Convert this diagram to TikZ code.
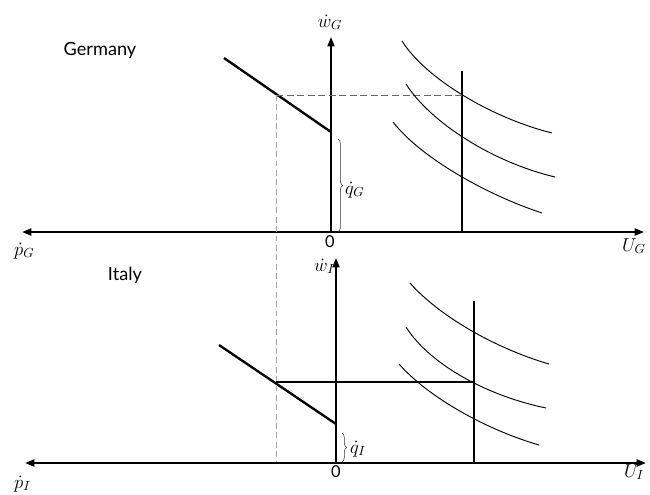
\documentclass[tikz,border=0pt]{standalone}
\usepackage{fix-cm}
\usepackage{fontspec}
\setsansfont{Lato}
\usetikzlibrary{arrows.meta,decorations.pathreplacing}
\begin{document}
\begin{tikzpicture}[x=0.03cm,y=-0.03cm,
  tip/.tip={Triangle[length=8pt,width=6pt]},
  haxis/.style={line width=1.8pt,{tip}-{tip}},
  vaxis/.style={line width=1.5pt,-{tip}},
  budget/.style={line width=2pt},
  indiff/.style={line width=0.8pt},
  vline/.style={line width=1.4pt},
  guide/.style={gray!70,line width=0.6pt,dash pattern=on 5pt off 3pt},
  guidedark/.style={gray!80!black,line width=0.6pt,dash pattern=on 6pt off 3pt},
  brace/.style={decorate,decoration={brace,amplitude=4pt},line width=0.5pt,black!80},
  country/.style={font=\sffamily\fontsize{15.5}{18}\selectfont,inner sep=0pt},
  zero/.style={font=\sffamily\fontsize{14}{16}\selectfont,inner sep=0pt},
  mlabel/.style={font=\fontsize{16}{18}\selectfont,inner sep=0pt}]
\path[use as bounding box] (0,0) rectangle (650,494);

% ---------- Germany ----------
\coordinate (GL) at (22,232);
\coordinate (GR) at (644,232);
\coordinate (OG) at (331,232);
\coordinate (GT) at (331,37);
\coordinate (GB1) at (224,58);
\coordinate (GB2) at (331,132);
\coordinate (GD) at (276,95);
\coordinate (GE) at (462,95);
\coordinate (GV1) at (462,71);
\coordinate (GV2) at (462,232);

\draw[haxis] (GL) -- (GR);
\draw[vaxis] (OG) -- (GT);
\draw[budget] (GB1) -- (GB2);
\draw[vline] (GV1) -- (GV2);
\draw[guidedark] (GD) -- (GE);

\draw[indiff] (402,41) .. controls (426,79) and (492,118) .. (552,133);
\draw[indiff] (406,84) .. controls (430,122) and (492,162) .. (555,177);
\draw[indiff] (393,122) .. controls (421,158) and (487,195) .. (542,213);

\draw[brace] (338,139) -- (338,232);
\node[mlabel,anchor=base west] (qG) at (345,194) {$\dot{q}_G$};
\node[mlabel,anchor=base] (wG) at (330,27) {$\dot{w}_G$};
\node[zero] (zG) at (330,242) {0};
\node[mlabel,anchor=base west] (pG) at (14,255) {$\dot{p}_G$};
\node[mlabel,anchor=base west] (UG) at (622,251) {$U_G$};
\node[country] (ger) at (100,50) {Germany};

% ---------- Italy ----------
\coordinate (IL) at (25,463);
\coordinate (IR) at (646,463);
\coordinate (OI) at (336,463);
\coordinate (IT) at (336,258);
\coordinate (IB1) at (219,345);
\coordinate (IB2) at (336,424);
\coordinate (ID) at (276,382);
\coordinate (IE) at (474,382);
\coordinate (IV1) at (474,301);
\coordinate (IV2) at (474,463);
\coordinate (IDB) at (276,463);

\draw[guide] (GD) -- (IDB);
\draw[haxis] (IL) -- (IR);
\draw[vaxis] (OI) -- (IT);
\draw[budget] (IB1) -- (IB2);
\draw[vline] (IV1) -- (IV2);
\draw[budget] (ID) -- (IE);

\draw[indiff] (410,283) .. controls (438,315) and (494,348) .. (549,364);
\draw[indiff] (406,327) .. controls (430,365) and (488,396) .. (546,408);
\draw[indiff] (399,364) .. controls (427,396) and (484,429) .. (539,445);

\draw[brace] (342,433) -- (342,462);
\node[mlabel,anchor=base west] (qI) at (350,453) {$\dot{q}_I$};
\node[mlabel,anchor=base west] (wI) at (314,271) {$\dot{w}_I$};
\node[zero] (zI) at (336,472) {0};
\node[mlabel,anchor=base west] (pI) at (14,488) {$\dot{p}_I$};
\node[mlabel,anchor=base west] (UI) at (624,477) {$U_I$};
\node[country] (ita) at (125,275) {Italy};
\end{tikzpicture}
\end{document}
